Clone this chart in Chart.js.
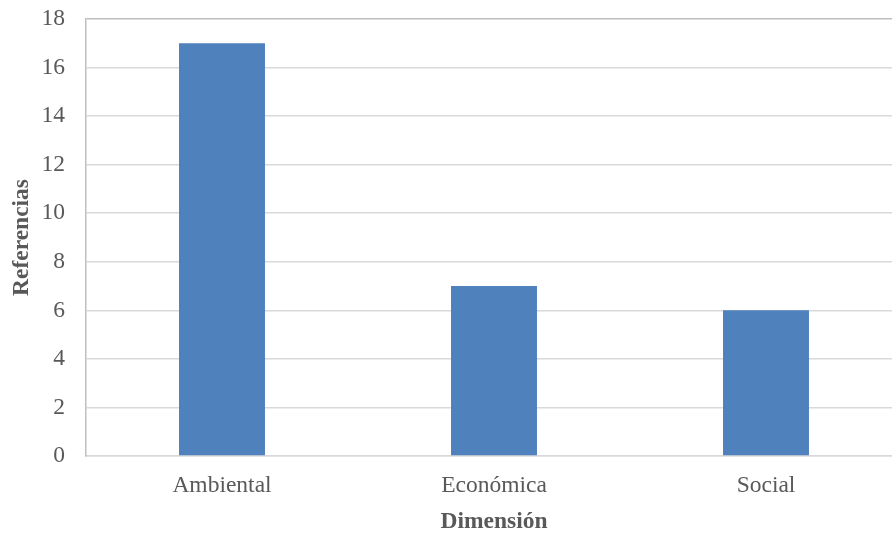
<!DOCTYPE html>
<html>
<head>
<meta charset="utf-8">
<script src="https://cdn.jsdelivr.net/npm/chart.js@4/dist/chart.umd.min.js"></script>
<style>
  html, body { margin: 0; padding: 0; background: #fff; }
  #clip { position: relative; width: 892px; height: 533px; overflow: hidden; }
  #wrap { position: relative; width: 902px; height: 533px; }
</style>
</head>
<body>
<div id="clip"><div id="wrap"><canvas id="chart"></canvas></div></div>
<script>
// data
var categories = ['Ambiental', 'Económica', 'Social'];
var referencias = [17, 7, 6];
var yTicks = [0, 2, 4, 6, 8, 10, 12, 14, 16, 18];

var textColor = '#595959';
var fontFamily = '"Liberation Serif", "Times New Roman", serif';

new Chart(document.getElementById('chart'), {
  type: 'bar',
  data: {
    labels: categories,
    datasets: [{
      label: 'Referencias',
      data: referencias,
      backgroundColor: '#4f81bd',
      borderWidth: 0,
      categoryPercentage: 1,
      barPercentage: 0.316
    }]
  },
  options: {
    responsive: true,
    maintainAspectRatio: false,
    animation: false,
    layout: { padding: { top: 19, right: 0, left: 0, bottom: 0 } },
    plugins: {
      legend: { display: false },
      tooltip: { enabled: false }
    },
    scales: {
      x: {
        grid: { display: false },
        border: { color: '#d9d9d9', width: 1.5 },
        ticks: {
          color: textColor,
          font: { family: fontFamily, size: 23.5 },
          padding: 8
        },
        title: {
          display: true,
          text: 'Dimensión',
          color: textColor,
          font: { family: fontFamily, size: 23.5, weight: 'bold' },
          padding: { top: 16, bottom: -3 }
        },
        afterFit: function(axis) { axis.height = 77; }
      },
      y: {
        min: 0,
        max: 18,
        afterBuildTicks: function(axis) {
          axis.ticks = yTicks.map(function(v) { return { value: v }; });
        },
        grid: {
          color: function(ctx) {
            return ctx.tick && ctx.tick.value === 18 ? '#bfbfbf' : '#d9d9d9';
          },
          lineWidth: 1.5,
          drawTicks: false
        },
        border: { color: '#bfbfbf', width: 1.5 },
        ticks: {
          color: textColor,
          font: { family: fontFamily, size: 23.5 },
          padding: 21
        },
        title: {
          display: true,
          text: 'Referencias',
          color: textColor,
          font: { family: fontFamily, size: 23.5, weight: 'bold' },
          padding: { top: 8, bottom: 0 }
        },
        afterFit: function(axis) {
          axis.width = 86;
          axis.paddingTop = 0;
          axis.paddingBottom = 0;
        }
      }
    }
  }
});
</script>
</body>
</html>
